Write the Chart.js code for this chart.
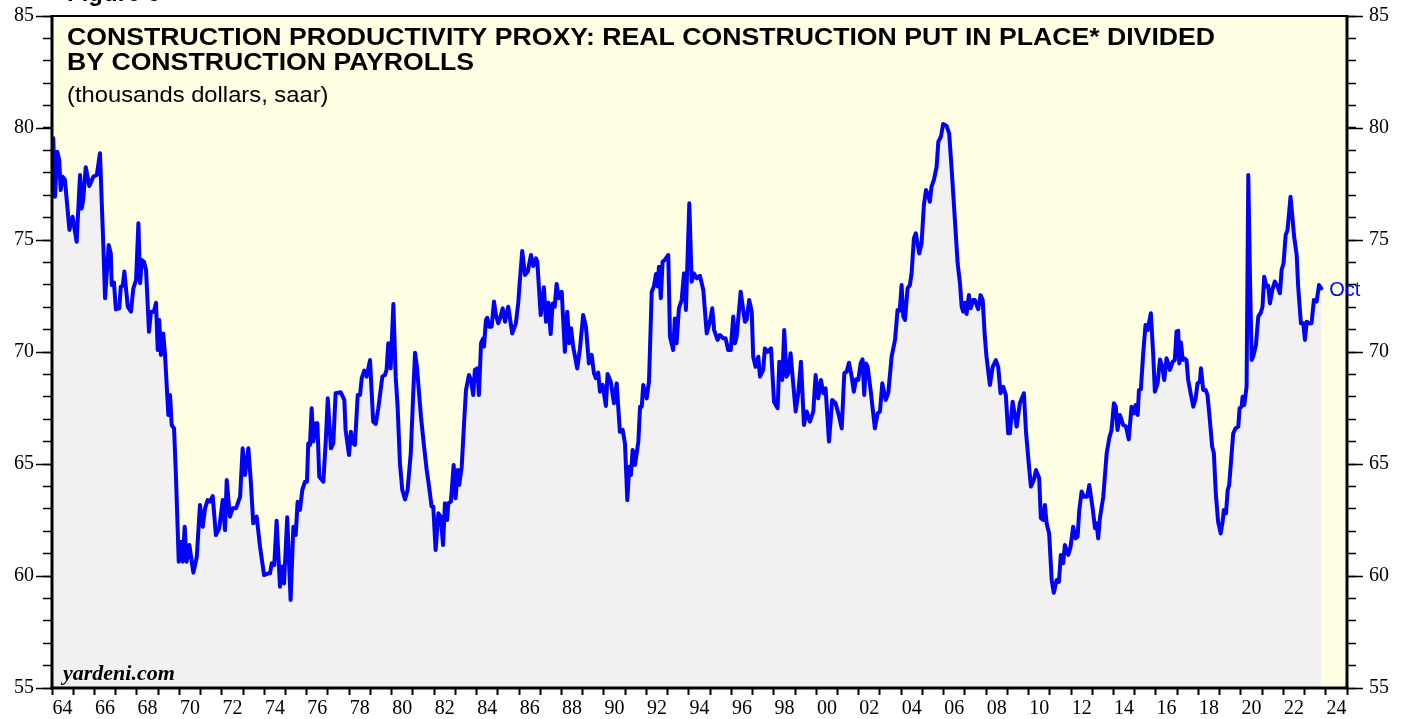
<!DOCTYPE html>
<html>
<head>
<meta charset="utf-8">
<script src="https://cdn.jsdelivr.net/npm/chart.js@4/dist/chart.umd.min.js"></script>
<style>
  html, body { margin: 0; padding: 0; background: #fff; }
  #wrap { width: 1407px; height: 719px; }
</style>
</head>
<body>
<div id="wrap"><canvas id="chart" width="1407" height="719"></canvas></div>
<script>
// Construction productivity proxy (thousands dollars, saar)
const years = [
  1964.06,1964.14,1964.25,1964.34,1964.41,1964.50,1964.61,1964.82,1964.97,1965.16,1965.32,1965.40,1965.47,1965.59,1965.76,1965.95,
  1966.11,1966.26,1966.42,1966.50,1966.67,1966.77,1966.81,1966.92,1967.01,1967.17,1967.24,1967.33,1967.41,1967.57,1967.72,1967.83,
  1967.96,1968.07,1968.15,1968.23,1968.33,1968.43,1968.57,1968.66,1968.80,1968.90,1968.98,1969.05,1969.13,1969.24,1969.32,1969.48,
  1969.56,1969.64,1969.75,1969.84,1969.97,1970.08,1970.16,1970.25,1970.34,1970.47,1970.66,1970.82,1970.97,1971.10,1971.21,1971.33,
  1971.44,1971.57,1971.72,1971.88,1972.04,1972.15,1972.23,1972.38,1972.51,1972.67,1972.86,1972.98,1973.09,1973.25,1973.36,1973.48,
  1973.64,1973.80,1973.99,1974.19,1974.27,1974.35,1974.47,1974.58,1974.74,1974.85,1974.93,1975.08,1975.24,1975.37,1975.48,1975.57,
  1975.68,1975.79,1975.92,1976.01,1976.07,1976.15,1976.23,1976.31,1976.42,1976.50,1976.59,1976.78,1976.89,1976.99,1977.14,1977.25,
  1977.36,1977.60,1977.77,1977.83,1977.99,1978.08,1978.19,1978.27,1978.40,1978.51,1978.59,1978.71,1978.82,1978.98,1979.13,1979.25,
  1979.37,1979.56,1979.68,1979.76,1979.84,1979.95,1980.08,1980.19,1980.28,1980.39,1980.50,1980.63,1980.75,1980.90,1980.99,1981.10,
  1981.19,1981.29,1981.38,1981.51,1981.65,1981.76,1981.88,1981.96,1982.07,1982.20,1982.31,1982.42,1982.51,1982.61,1982.67,1982.79,
  1982.92,1983.01,1983.11,1983.18,1983.30,1983.41,1983.50,1983.64,1983.74,1983.84,1983.92,1984.03,1984.11,1984.21,1984.31,1984.35,
  1984.44,1984.50,1984.60,1984.71,1984.82,1984.91,1985.02,1985.13,1985.23,1985.34,1985.49,1985.68,1985.85,1985.96,1986.04,1986.15,
  1986.28,1986.41,1986.56,1986.67,1986.80,1986.86,1987.02,1987.17,1987.27,1987.38,1987.49,1987.58,1987.68,1987.77,1987.87,1988.01,
  1988.16,1988.27,1988.37,1988.45,1988.55,1988.74,1988.87,1989.02,1989.15,1989.29,1989.42,1989.53,1989.62,1989.73,1989.81,1989.94,
  1990.09,1990.17,1990.32,1990.47,1990.60,1990.75,1990.88,1990.99,1991.10,1991.19,1991.27,1991.35,1991.46,1991.62,1991.70,1991.78,
  1991.85,1992.01,1992.12,1992.25,1992.35,1992.45,1992.53,1992.59,1992.68,1992.76,1992.87,1993.03,1993.11,1993.26,1993.34,1993.42,
  1993.53,1993.66,1993.77,1993.86,1994.02,1994.13,1994.24,1994.37,1994.52,1994.68,1994.84,1994.99,1995.10,1995.19,1995.35,1995.46,
  1995.62,1995.73,1995.85,1995.97,1996.09,1996.17,1996.25,1996.44,1996.64,1996.72,1996.84,1996.96,1997.03,1997.14,1997.27,1997.35,
  1997.50,1997.58,1997.71,1997.87,1998.01,1998.18,1998.26,1998.40,1998.49,1998.60,1998.68,1998.79,1999.03,1999.15,1999.28,1999.42,
  1999.55,1999.70,1999.86,1999.97,2000.09,2000.22,2000.33,2000.44,2000.60,2000.75,2000.91,2001.04,2001.20,2001.32,2001.43,2001.54,
  2001.67,2001.77,2001.87,2001.98,2002.09,2002.18,2002.26,2002.34,2002.42,2002.57,2002.76,2002.89,2003.00,2003.11,2003.27,2003.39,
  2003.55,2003.71,2003.83,2003.93,2004.02,2004.10,2004.18,2004.30,2004.41,2004.49,2004.60,2004.69,2004.85,2004.96,2005.07,2005.17,
  2005.27,2005.35,2005.43,2005.54,2005.67,2005.75,2005.87,2005.98,2006.14,2006.26,2006.38,2006.50,2006.66,2006.77,2006.85,2006.92,
  2007.00,2007.08,2007.19,2007.27,2007.39,2007.47,2007.63,2007.74,2007.84,2007.94,2008.02,2008.18,2008.31,2008.46,2008.57,2008.68,
  2008.81,2008.93,2009.04,2009.12,2009.25,2009.44,2009.59,2009.78,2009.88,2009.98,2010.11,2010.25,2010.35,2010.50,2010.58,2010.69,
  2010.77,2010.85,2010.97,2011.09,2011.19,2011.32,2011.43,2011.52,2011.63,2011.71,2011.87,2011.98,2012.10,2012.22,2012.31,2012.39,
  2012.50,2012.61,2012.76,2012.86,2013.02,2013.13,2013.21,2013.28,2013.36,2013.52,2013.68,2013.80,2013.91,2014.02,2014.11,2014.19,
  2014.30,2014.46,2014.59,2014.72,2014.85,2014.96,2015.04,2015.14,2015.20,2015.29,2015.40,2015.51,2015.61,2015.67,2015.76,2015.87,
  2015.95,2016.08,2016.19,2016.30,2016.39,2016.50,2016.58,2016.66,2016.79,2016.89,2016.97,2017.05,2017.10,2017.18,2017.26,2017.33,
  2017.44,2017.52,2017.65,2017.76,2017.87,2017.96,2018.07,2018.12,2018.23,2018.34,2018.43,2018.54,2018.65,2018.73,2018.82,2018.93,
  2019.05,2019.14,2019.20,2019.30,2019.38,2019.45,2019.56,2019.64,2019.75,2019.88,2019.94,2020.04,2020.08,2020.16,2020.22,2020.27,
  2020.35,2020.43,2020.51,2020.58,2020.71,2020.82,2020.94,2021.02,2021.10,2021.21,2021.29,2021.37,2021.48,2021.60,2021.73,2021.84,
  2021.92,2022.01,2022.11,2022.20,2022.34,2022.44,2022.51,2022.63,2022.70,2022.83,2022.94,2023.02,2023.10,2023.21,2023.33,2023.44,
  2023.57,2023.68,2023.79
];
const values = [
  79.54,76.93,78.94,78.57,77.23,77.83,77.68,75.45,76.04,74.92,77.90,76.41,76.79,78.25,77.41,77.83,
  77.90,78.87,74.70,72.40,74.78,74.40,72.99,73.10,71.90,71.95,72.92,72.95,73.59,72.02,71.80,72.84,
  73.21,75.75,73.07,74.11,74.03,73.66,70.90,71.80,71.80,72.20,70.09,71.43,69.87,70.83,69.94,67.19,
  68.08,66.74,66.59,64.43,60.64,61.53,60.64,62.20,60.64,61.38,60.15,60.86,63.17,62.20,63.02,63.39,
  63.32,63.57,61.83,62.13,63.39,62.05,64.29,62.65,63.02,63.02,63.54,65.70,64.51,65.70,64.29,62.35,
  62.65,61.31,60.04,60.12,60.12,60.57,60.49,62.47,59.52,60.42,59.67,62.62,58.93,62.20,61.83,63.32,
  62.95,63.84,64.21,64.21,65.92,65.85,67.49,66.00,66.82,66.82,64.43,64.21,65.92,67.93,65.70,65.92,
  68.16,68.20,67.86,66.52,65.40,66.44,65.92,65.85,68.08,68.08,68.83,69.17,68.90,69.64,66.89,66.79,
  67.49,68.90,68.97,69.20,70.39,69.27,72.14,68.90,67.56,65.03,63.84,63.42,63.84,65.48,67.56,69.97,
  69.34,68.16,67.11,65.92,64.73,64.01,63.10,63.10,61.16,62.80,62.65,61.38,63.25,62.50,63.25,63.32,
  64.96,63.47,64.73,64.06,64.88,66.82,68.30,68.97,68.75,68.08,69.20,69.27,68.08,70.40,70.61,70.24,
  71.43,71.53,71.13,71.13,72.25,71.65,71.28,71.58,71.95,71.35,72.02,70.83,71.28,72.17,73.21,74.51,
  73.44,73.59,74.33,73.84,74.18,74.03,71.65,72.89,71.35,72.20,70.80,72.17,72.02,73.04,72.40,72.69,
  70.01,71.80,70.39,71.06,70.24,69.27,70.16,71.65,71.13,69.49,69.87,69.05,68.83,69.08,68.23,68.53,
  67.59,69.02,68.67,67.71,68.60,66.44,66.52,65.92,63.39,64.88,64.51,65.63,64.96,66.00,67.56,67.56,
  68.53,67.93,68.67,72.69,72.92,73.48,72.92,73.81,72.40,74.03,74.11,74.33,70.68,70.09,71.50,70.39,
  71.95,72.32,73.51,71.88,76.64,73.14,73.51,73.29,73.40,72.77,70.83,71.35,71.95,70.98,70.54,70.76,
  70.61,70.61,70.09,70.09,71.58,70.39,70.68,72.69,71.35,71.43,72.32,71.80,69.79,69.34,69.79,68.90,
  69.20,70.16,70.01,70.16,67.78,67.49,69.57,68.75,70.98,68.90,69.05,69.94,67.34,68.16,69.57,66.74,
  67.34,66.89,67.34,68.97,67.93,68.75,68.16,68.38,66.00,67.86,67.71,67.26,66.59,69.05,69.12,69.52,
  68.90,68.23,68.78,68.75,69.49,69.67,68.08,69.49,69.34,68.23,66.59,67.26,67.34,68.60,67.86,68.16,
  69.79,70.54,71.88,71.84,72.99,71.58,71.43,72.84,72.99,73.51,75.08,75.30,74.40,74.85,76.56,77.23,
  77.01,76.71,77.38,77.68,78.27,79.39,79.61,80.18,80.09,79.76,78.13,76.34,73.96,73.07,72.02,71.80,
  72.20,71.70,72.54,71.95,72.32,72.32,71.91,72.54,72.32,70.68,69.79,68.53,69.34,69.64,69.34,68.16,
  68.45,68.08,66.37,66.37,67.78,66.67,67.71,68.16,66.44,65.33,63.99,64.29,64.73,64.36,62.58,62.50,
  63.17,62.35,61.90,59.82,59.25,59.82,59.74,60.94,60.57,61.38,60.94,61.31,62.20,61.68,61.76,62.95,
  63.77,63.54,63.54,64.06,63.02,62.13,62.35,61.68,62.58,63.54,65.48,66.15,66.52,67.71,67.56,66.52,
  67.19,66.74,66.67,66.10,67.56,67.26,67.63,67.19,68.30,68.33,69.94,71.21,70.98,71.28,71.73,69.94,
  68.23,68.60,69.67,69.34,68.75,69.72,69.49,69.20,69.57,69.64,70.91,70.95,69.49,70.42,69.64,69.72,
  69.64,68.75,68.08,67.56,67.93,68.60,68.68,69.27,68.30,68.30,68.08,66.96,65.77,65.48,63.69,62.42,
  61.90,62.42,62.95,62.80,63.84,64.06,65.40,66.37,66.59,66.67,67.49,67.56,68.00,67.63,68.08,68.45,
  77.90,73.36,69.64,69.79,70.31,71.58,71.76,72.02,73.36,72.92,72.95,72.17,72.77,73.14,72.92,72.62,
  73.66,73.96,75.22,75.45,76.93,75.89,75.15,74.33,72.92,71.28,71.28,70.54,71.35,71.28,71.28,72.32,
  72.25,72.99,72.84
];
const lastLabel = 'Oct';

// Axis ticks: x labels every two years (centred mid-year), y labels every 5
const xMin = 1964, xMax = 2025;
const yMin = 55, yMax = 85;
const yMajor = [55, 60, 65, 70, 75, 80, 85];

const titleLines = [
  'CONSTRUCTION PRODUCTIVITY PROXY: REAL CONSTRUCTION PUT IN PLACE* DIVIDED',
  'BY CONSTRUCTION PAYROLLS'
];
const subTitle = '(thousands dollars, saar)';
const credit = 'yardeni.com';

const points = years.map((yr, i) => ({ x: yr, y: values[i] }));

const tickFont = { family: 'Liberation Serif', size: 20 };

// draws text stretched horizontally (the original uses a wide Helvetica)
function wideText(ctx, txt, x, y, sx) {
  ctx.save();
  ctx.translate(x, y);
  ctx.scale(sx, 1);
  ctx.fillText(txt, 0, 0);
  ctx.restore();
}

// background, frame, major ticks and texts
const decor = {
  id: 'decor',
  beforeDraw(chart) {
    const { ctx, chartArea: a } = chart;
    ctx.save();
    ctx.fillStyle = '#ffffe3';
    ctx.fillRect(a.left, a.top, a.right - a.left, a.bottom - a.top);
    ctx.restore();
  },
  afterDraw(chart) {
    const { ctx, chartArea: a, scales } = chart;
    const seg = (x1, y1, x2, y2) => { ctx.beginPath(); ctx.moveTo(x1, y1); ctx.lineTo(x2, y2); ctx.stroke(); };
    ctx.save();
    ctx.strokeStyle = '#000';
    ctx.lineWidth = 1.5;
    yMajor.forEach(v => {
      const py = Math.round(scales.y.getPixelForValue(v)) + 0.5;
      seg(a.left - 16, py, a.left, py);
      seg(a.right, py, a.right + 16, py);
    });
    // frame
    ctx.lineWidth = 2;
    seg(a.left, a.top, a.right, a.top);
    ctx.lineWidth = 3;
    seg(a.left, a.top - 1, a.left, a.bottom + 1.5);
    seg(a.right, a.top - 1, a.right, a.bottom + 1.5);
    seg(a.left - 1.5, a.bottom, a.right + 1.5, a.bottom);

    // titles
    ctx.fillStyle = '#000';
    ctx.textBaseline = 'alphabetic';
    ctx.textAlign = 'left';
    ctx.font = 'bold 24px "Liberation Sans", Arial, sans-serif';
    ctx.fillText('Figure 6', 67, 1);
    wideText(ctx, titleLines[0], 67, 45, 1.11);
    wideText(ctx, titleLines[1], 67, 70, 1.11);
    ctx.font = '22px "Liberation Sans", Arial, sans-serif';
    wideText(ctx, subTitle, 67, 102, 1.08);
    ctx.font = 'italic bold 22px "Liberation Serif", "Times New Roman", serif';
    ctx.fillText(credit, 63, 680);

    // end label
    const meta = chart.getDatasetMeta(0);
    const last = meta.data[meta.data.length - 1];
    ctx.fillStyle = '#0000ff';
    ctx.textBaseline = 'middle';
    ctx.font = '20px "Liberation Sans", Arial, sans-serif';
    ctx.fillText(lastLabel, last.x + 8, last.y + 2);
    ctx.restore();
  }
};

const yAxis = (pos, pad, width) => ({
  type: 'linear',
  position: pos,
  min: yMin,
  max: yMax,
  afterFit(s) {
    s.width = width;
    s.paddingTop = 0;
    s.paddingBottom = 0;
  },
  border: { display: false },
  grid: { drawOnChartArea: false, drawTicks: true, tickLength: 9, tickColor: '#000', tickWidth: 1.5 },
  ticks: {
    stepSize: 1,
    autoSkip: false,
    padding: pad,
    color: '#000',
    font: tickFont,
    callback: v => (v % 5 === 0 ? String(v) : '')
  }
});

new Chart(document.getElementById('chart'), {
  type: 'line',
  data: {
    datasets: [{
      data: points,
      yAxisID: 'y',
      borderColor: '#0000ff',
      borderWidth: 4,
      backgroundColor: '#f1f1f1',
      fill: 'start',
      pointRadius: 0,
      tension: 0,
      borderJoinStyle: 'round',
      borderCapStyle: 'round'
    }]
  },
  options: {
    responsive: false,
    animation: false,
    layout: { padding: { top: 16, left: 0, right: 0, bottom: 0 } },
    plugins: { legend: { display: false }, tooltip: { enabled: false } },
    scales: {
      x: {
        type: 'linear',
        min: xMin,
        max: xMax,
        afterFit(s) {
          s.height = 31;
          s.paddingLeft = 0;
          s.paddingRight = 0;
        },
        border: { display: false },
        grid: {
          drawOnChartArea: false,
          drawTicks: true,
          tickLength: 7,
          tickWidth: 2,
          tickColor: c => (c.tick && Number.isInteger(c.tick.value) ? '#000' : 'rgba(0,0,0,0)')
        },
        ticks: {
          stepSize: 0.5,
          autoSkip: false,
          maxRotation: 0,
          padding: 2,
          color: '#000',
          font: tickFont,
          callback: v => {
            if (Number.isInteger(v)) return '';
            const yr = Math.floor(v);
            return yr % 2 === 0 ? String(yr % 100).padStart(2, '0') : '';
          }
        }
      },
      y: yAxis('left', 9, 52),
      y2: yAxis('right', 13, 60)
    }
  },
  plugins: [decor]
});
</script>
</body>
</html>
